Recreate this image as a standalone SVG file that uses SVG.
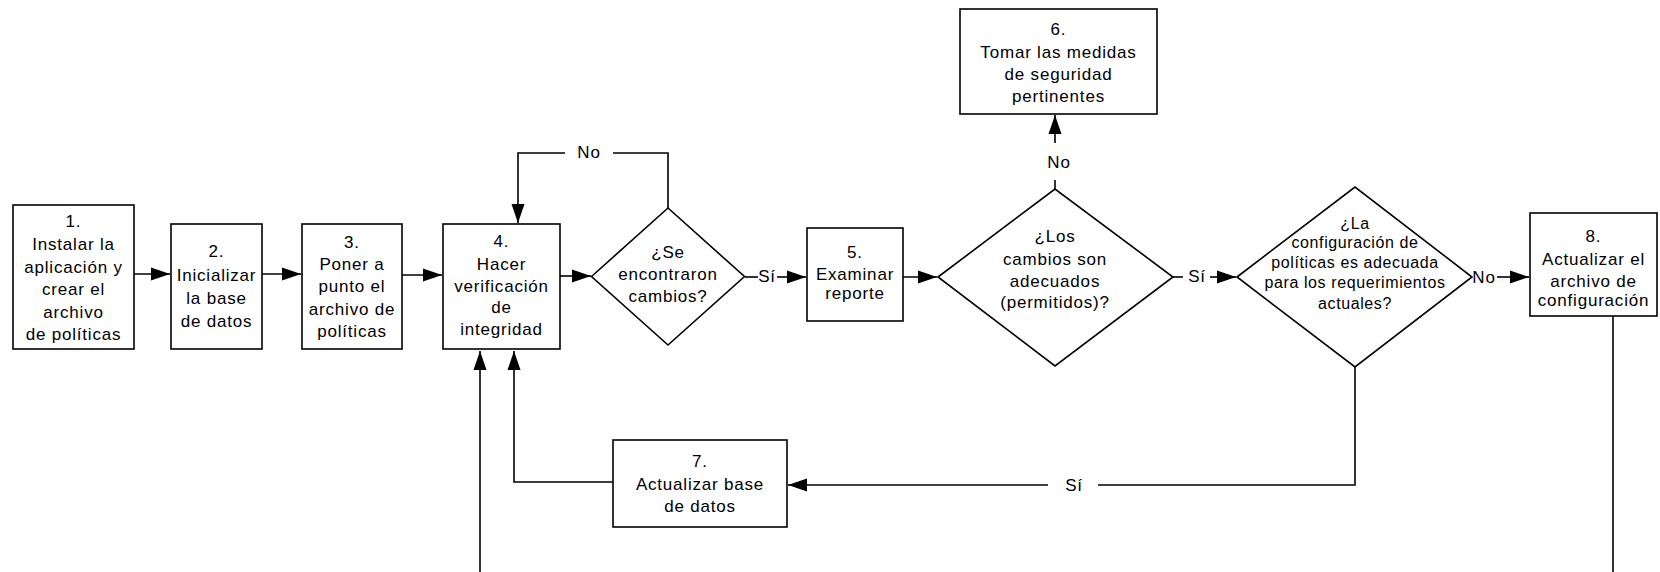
<svg xmlns="http://www.w3.org/2000/svg" width="1660" height="572" viewBox="0 0 1660 572">
<style>
.box{fill:#fff;stroke:#000;stroke-width:1.6}
.ln{fill:none;stroke:#000;stroke-width:1.6}
.arr{marker-end:url(#ah)}
text{font-family:"Liberation Sans",Arial,sans-serif;font-size:17px;letter-spacing:0.8px;fill:#000;text-anchor:middle}
.sm{font-size:16px;letter-spacing:0.6px}
</style>
<defs>
<marker id="ah" markerUnits="userSpaceOnUse" markerWidth="20" markerHeight="14" refX="19" refY="7" orient="auto">
<path d="M0,0.5 L19,7 L0,13.5 z" fill="#000"/>
</marker>
</defs>
<rect width="1660" height="572" fill="#fff"/>

<g id="connectors">
<path class="ln arr" d="M134,274 H170"/>
<path class="ln arr" d="M262,274 H301"/>
<path class="ln arr" d="M402,275 H442"/>
<path class="ln arr" d="M560,276 H591"/>
<path class="ln" d="M668,208 V153 H613"/>
<path class="ln arr" d="M565,153 H518 V223"/>
<text x="589" y="158">No</text>
<path class="ln" d="M745,277 H758"/>
<text x="767" y="282">Sí</text>
<path class="ln arr" d="M777,277 H806"/>
<path class="ln arr" d="M903,277 H937"/>
<path class="ln" d="M1055,189 V180"/>
<text x="1059" y="168">No</text>
<path class="ln arr" d="M1055,143 V115"/>
<path class="ln" d="M1173,277 H1183"/>
<text x="1197" y="282">Sí</text>
<path class="ln arr" d="M1210,277 H1236"/>
<text x="1484" y="283">No</text>
<path class="ln arr" d="M1497,277 H1529"/>
<path class="ln" d="M1355,367 V485 H1098"/>
<text x="1074" y="491">Sí</text>
<path class="ln arr" d="M1048,485 H788"/>
<path class="ln arr" d="M613,482 H514 V351"/>
<path class="ln arr" d="M480,572 V351"/>
<path class="ln" d="M1613,316 V572"/>
</g>

<g id="n1">
<rect class="box" x="13" y="205" width="121" height="144"/>
<text x="73.5" y="227">1.</text>
<text x="73.5" y="250">Instalar la</text>
<text x="73.5" y="273">aplicación y</text>
<text x="73.5" y="295">crear el</text>
<text x="73.5" y="318">archivo</text>
<text x="73.5" y="340">de políticas</text>
</g>

<g id="n2">
<rect class="box" x="171" y="224" width="91" height="125"/>
<text x="216.5" y="257">2.</text>
<text x="216.5" y="281">Inicializar</text>
<text x="216.5" y="304">la base</text>
<text x="216.5" y="327">de datos</text>
</g>

<g id="n3">
<rect class="box" x="302" y="224" width="100" height="125"/>
<text x="352" y="248">3.</text>
<text x="352" y="270">Poner a</text>
<text x="352" y="292">punto el</text>
<text x="352" y="315">archivo de</text>
<text x="352" y="337">políticas</text>
</g>

<g id="n4">
<rect class="box" x="443" y="224" width="117" height="125"/>
<text x="501.5" y="247">4.</text>
<text x="501.5" y="270">Hacer</text>
<text x="501.5" y="292">verificación</text>
<text x="501.5" y="313">de</text>
<text x="501.5" y="335">integridad</text>
</g>

<g id="d1">
<polygon class="box" points="591.5,276.5 668,208 744.5,276.5 668,345"/>
<text x="668" y="258">¿Se</text>
<text x="668" y="280">encontraron</text>
<text x="668" y="302">cambios?</text>
</g>

<g id="n5">
<rect class="box" x="807" y="228" width="96" height="93"/>
<text x="855" y="258">5.</text>
<text x="855" y="280">Examinar</text>
<text x="855" y="299">reporte</text>
</g>

<g id="d2">
<polygon class="box" points="938,277 1055,189 1173,277 1055,366"/>
<text x="1055" y="242">¿Los</text>
<text x="1055" y="265">cambios son</text>
<text x="1055" y="287">adecuados</text>
<text x="1055" y="308">(permitidos)?</text>
</g>

<g id="n6">
<rect class="box" x="960" y="9" width="197" height="105"/>
<text x="1058.5" y="35">6.</text>
<text x="1058.5" y="58">Tomar las medidas</text>
<text x="1058.5" y="80">de seguridad</text>
<text x="1058.5" y="102">pertinentes</text>
</g>

<g id="d3">
<polygon class="box" points="1237,277 1355,187 1472,277 1355,367"/>
<text class="sm" x="1355" y="229">¿La</text>
<text class="sm" x="1355" y="248">configuración de</text>
<text class="sm" x="1355" y="268">políticas es adecuada</text>
<text class="sm" x="1355" y="288">para los requerimientos</text>
<text class="sm" x="1355" y="309">actuales?</text>
</g>

<g id="n7">
<rect class="box" x="613" y="440" width="174" height="87"/>
<text x="700" y="467">7.</text>
<text x="700" y="490">Actualizar base</text>
<text x="700" y="512">de datos</text>
</g>

<g id="n8">
<rect class="box" x="1530" y="213" width="127" height="103"/>
<text x="1593.5" y="242">8.</text>
<text x="1593.5" y="265">Actualizar el</text>
<text x="1593.5" y="287">archivo de</text>
<text x="1593.5" y="306">configuración</text>
</g>
</svg>
